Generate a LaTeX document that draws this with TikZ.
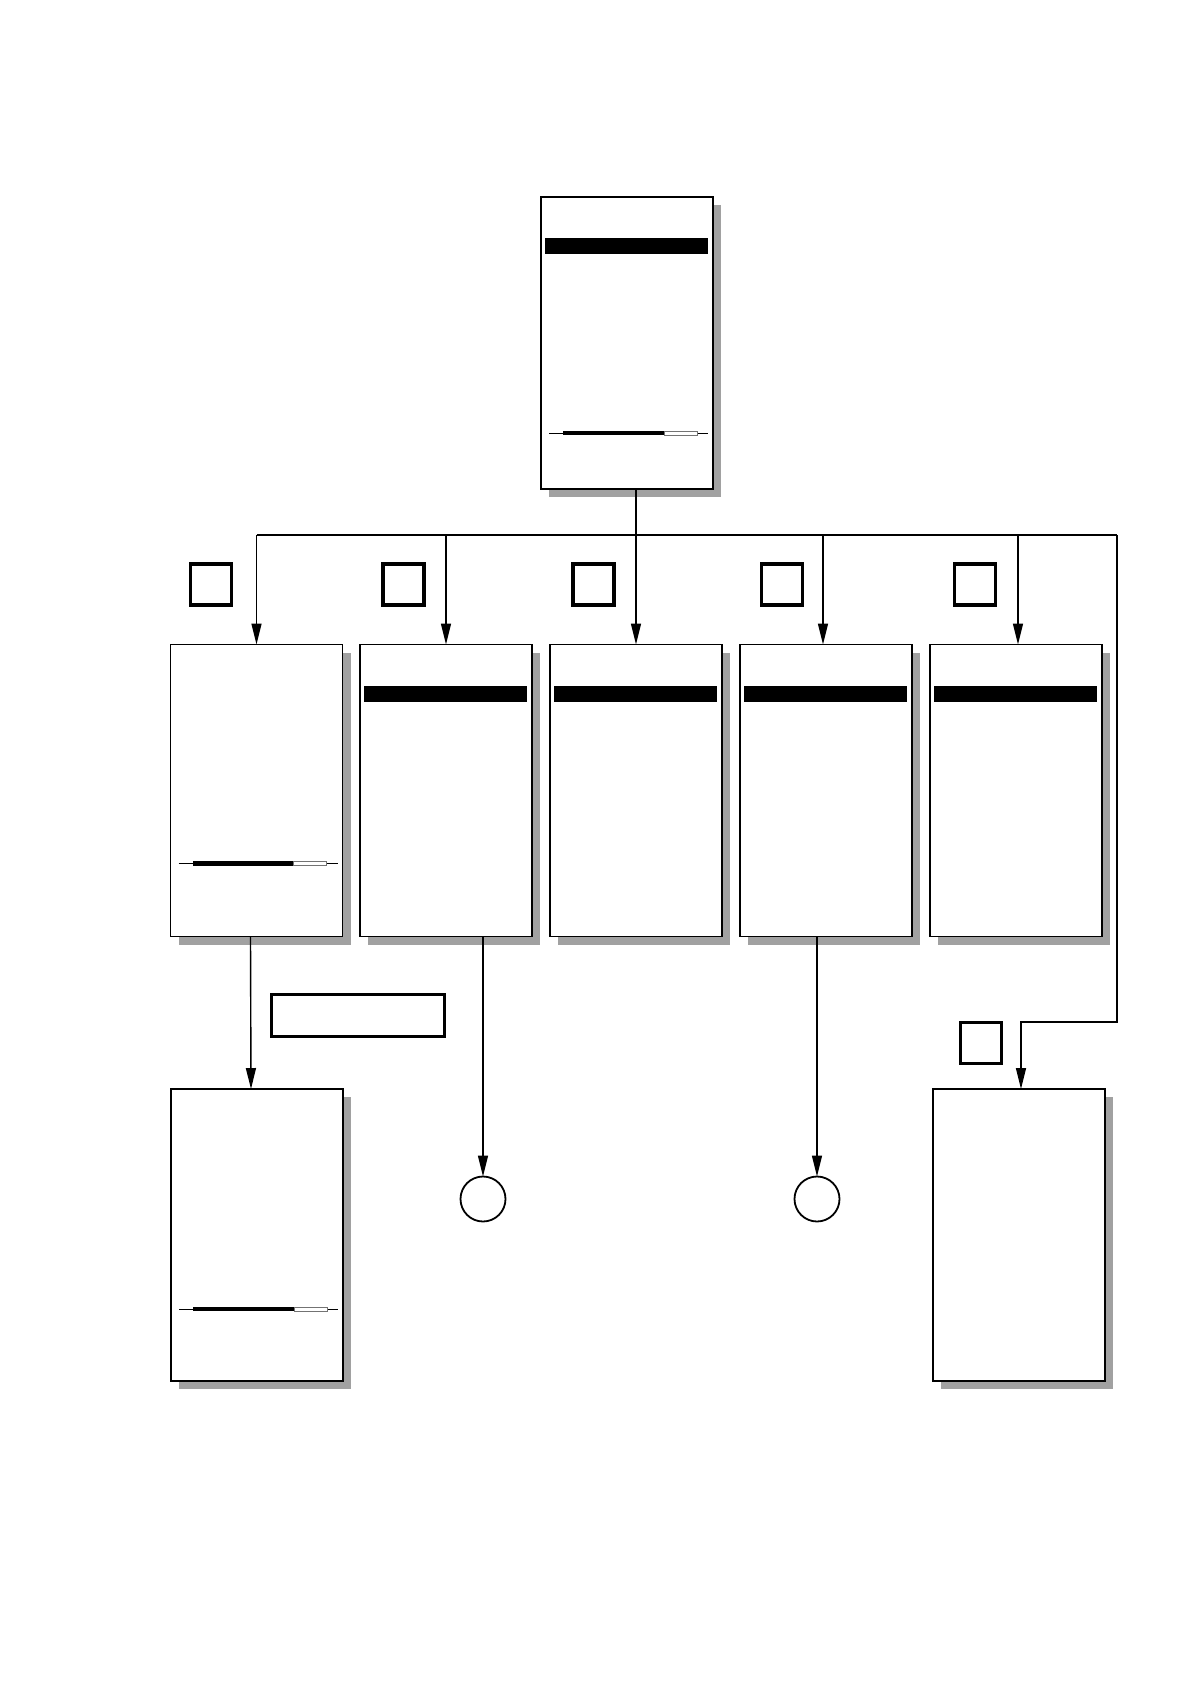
\documentclass[tikz,border=0pt]{standalone}
\usetikzlibrary{arrows.meta,shadows,calc}
\newcommand{\mysbar}[2]{%
  \draw[line width=0.8pt] ($(#1.north west)+(8,#2)$) -- ($(#1.north west)+(167,#2)$);
  \fill ($(#1.north west)+(22,#2-2.2)$) rectangle ($(#1.north west)+(123,#2+2.2)$);
  \draw[line width=0.6pt, draw=black!55, fill=white] ($(#1.north west)+(123,#2-2)$) rectangle ($(#1.north west)+(156,#2+2)$);
}
\newcommand{\myhbar}[1]{%
  \fill ($(#1.north west)+(4,41)$) rectangle ($(#1.north east)+(-5,57)$);
}
\begin{document}
\begin{tikzpicture}[x=1pt,y=-1pt,
  panel/.style={draw=black, line width=1.3pt, fill=white, minimum width=172pt, minimum height=292pt, inner sep=0pt, outer sep=0pt,
    drop shadow={shadow xshift=8pt, shadow yshift=-8pt, fill=black!37, opacity=1}},
  sq/.style={draw=black, line width=3.5pt, minimum size=41pt, inner sep=0pt, outer sep=0pt},
  lab/.style={draw=black, line width=3.5pt, minimum width=173pt, minimum height=42pt, inner sep=0pt, outer sep=0pt},
  circ/.style={circle, draw=black, line width=1.8pt, minimum size=45pt, inner sep=0pt, outer sep=0pt},
  conn/.style={line width=1.4pt},
  arr/.style={conn, -{Triangle[length=21pt,width=10pt]}}
]
\useasboundingbox (0,0) rectangle (1190,1684);

% panels
\node[panel] (top) at (627,343) {};
\node[panel] (b1) at (256.5,790.5) {};
\node[panel] (b2) at (446,790.5) {};
\node[panel] (b3) at (636,790.5) {};
\node[panel] (b4) at (826,790.5) {};
\node[panel] (b5) at (1016,790.5) {};
\node[panel] (bl) at (257,1235) {};
\node[panel] (br) at (1019,1235) {};

% decorations inside panels
\myhbar{top}
\myhbar{b2}
\myhbar{b3}
\myhbar{b4}
\myhbar{b5}
\mysbar{top}{236}
\mysbar{b1}{219}
\mysbar{bl}{220}

% small squares
\node[sq] (s1) at (211,584.5) {};
\node[sq] (s2) at (403.5,584.5) {};
\node[sq] (s3) at (593.5,584.5) {};
\node[sq] (s4) at (782,584.5) {};
\node[sq] (s5) at (975,584.5) {};
\node[sq] (s6) at (981,1043) {};

% label rectangle
\node[lab] (lab) at (358,1015.5) {};

% circles
\node[circ] (c1) at (483,1199) {};
\node[circ] (c2) at (817,1199) {};

% connectors
\coordinate (busL) at (b1.north |- 0,535);
\coordinate (busR) at (1117,535);
\coordinate (turn) at (1117,1022);
\coordinate (d4) at ($(b4.north)+(-3,0)$);
\coordinate (d5) at ($(b5.north)+(2,0)$);
\coordinate (d7) at ($(br.north)+(2,0)$);
\draw[conn] (busL) -- (busR);
\draw[arr] (busR) -- (turn) -| (d7);
\draw[arr] (busL) -- (b1.north);
\draw[arr] (b2.north |- busL) -- (b2.north);
\draw[arr] (top.south -| b3.north) -- (b3.north);
\draw[arr] (d4 |- busL) -- (d4);
\draw[arr] (d5 |- busL) -- (d5);
\draw[arr] ([xshift=-6pt]b1.south) -- ([xshift=-6pt]bl.north);
\draw[arr] (b2.south -| c1.north) -- (c1.north);
\draw[arr] (b4.south -| c2.north) -- (c2.north);
\end{tikzpicture}
\end{document}
